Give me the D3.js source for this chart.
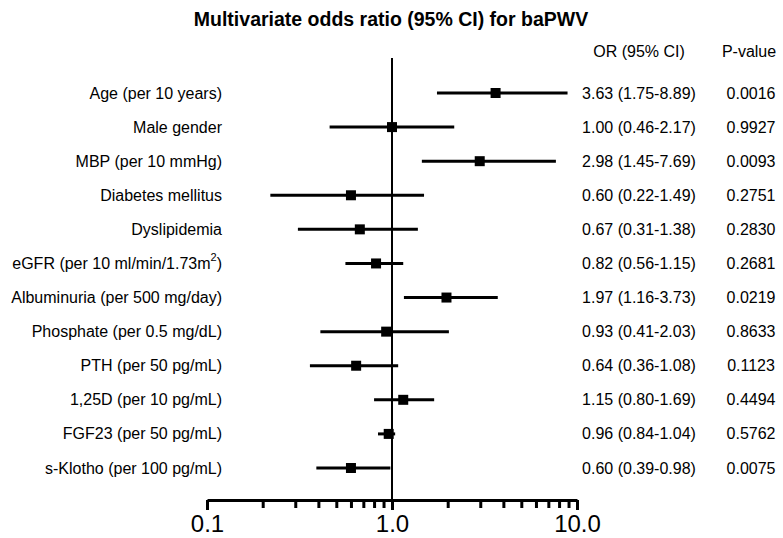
<!DOCTYPE html>
<html>
<head>
<meta charset="utf-8">
<script src="https://cdn.jsdelivr.net/npm/d3@7/dist/d3.min.js"></script>
<style>
  html, body { margin: 0; padding: 0; background: #fff; }
  svg { display: block; font-family: Arial, "Liberation Sans", Helvetica, sans-serif; }
</style>
</head>
<body>
<svg id="chart" width="783" height="538"></svg>
<script>
const variables = [
  "Age (per 10 years)",
  "Male gender",
  "MBP (per 10 mmHg)",
  "Diabetes mellitus",
  "Dyslipidemia",
  "eGFR (per 10 ml/min/1.73m²)",
  "Albuminuria (per 500 mg/day)",
  "Phosphate (per 0.5 mg/dL)",
  "PTH (per 50 pg/mL)",
  "1,25D (per 10 pg/mL)",
  "FGF23 (per 50 pg/mL)",
  "s-Klotho (per 100 pg/mL)"
];
const oddsRatio = [3.63, 1.00, 2.98, 0.60, 0.67, 0.82, 1.97, 0.93, 0.64, 1.15, 0.96, 0.60];
const ciLower   = [1.75, 0.46, 1.45, 0.22, 0.31, 0.56, 1.16, 0.41, 0.36, 0.80, 0.84, 0.39];
const ciUpper   = [8.89, 2.17, 7.69, 1.49, 1.38, 1.15, 3.73, 2.03, 1.08, 1.69, 1.04, 0.98];
const pValues   = ["0.0016", "0.9927", "0.0093", "0.2751", "0.2830", "0.2681", "0.0219", "0.8633", "0.1123", "0.4494", "0.5762", "0.0075"];
const majorTicks = [0.1, 1, 10];
const majorTickLabels = ["0.1", "1.0", "10.0"];
const minorTicks = [0.2,0.3,0.4,0.5,0.6,0.7,0.8,0.9,2,3,4,5,6,7,8,9];
const titleText = "Multivariate odds ratio (95% CI) for baPWV";
const headerOR = "OR (95% CI)";
const headerP = "P-value";

const svg = d3.select("#chart");
const x = d3.scaleLog().domain([0.1, 10]).range([207, 577]);
const y = d3.scalePoint().domain(d3.range(variables.length)).range([93, 468]);
const axisY = 500;

// Title
svg.append("text")
  .attr("x", 391).attr("y", 19)
  .attr("text-anchor", "middle").attr("dominant-baseline", "central")
  .attr("font-size", 19.5).attr("font-weight", "bold")
  .text(titleText);

// Headers
svg.append("text").attr("x", 639).attr("y", 51)
  .attr("text-anchor", "middle").attr("dominant-baseline", "central")
  .attr("font-size", 16).text(headerOR);
svg.append("text").attr("x", 749).attr("y", 51)
  .attr("text-anchor", "middle").attr("dominant-baseline", "central")
  .attr("font-size", 16).text(headerP);

// Reference line at OR = 1
svg.append("line")
  .attr("x1", x(1)).attr("x2", x(1))
  .attr("y1", 58).attr("y2", axisY)
  .attr("stroke", "#000").attr("stroke-width", 2);

// Axis
const allTicks = majorTicks.concat(minorTicks);
const axis = d3.axisBottom(x)
  .tickValues(allTicks)
  .tickSize(8)
  .tickSizeOuter(0)
  .tickFormat(d => {
    const i = majorTicks.indexOf(d);
    return i >= 0 ? majorTickLabels[i] : "";
  });
const gAxis = svg.append("g").attr("transform", `translate(0,${axisY})`).call(axis);
gAxis.select(".domain").attr("stroke", "#000").attr("stroke-width", 3);
gAxis.selectAll(".tick line").attr("stroke", "#000").attr("stroke-width", 3)
  .attr("y2", d => majorTicks.includes(d) ? 10 : 8);
gAxis.selectAll(".tick text")
  .attr("font-size", 24).attr("font-family", "Arial, 'Liberation Sans', sans-serif")
  .attr("fill", "#000").attr("y", 0).attr("dy", 0)
  .attr("transform", `translate(0,${532 - axisY})`);

// Rows
const rows = svg.append("g").selectAll("g.row")
  .data(variables.map((v, i) => ({ v, i })))
  .join("g").attr("class", "row");

// labels
rows.append("text")
  .attr("x", 222).attr("y", d => y(d.i))
  .attr("text-anchor", "end").attr("dominant-baseline", "central")
  .attr("font-size", 16)
  .each(function(d) {
    const t = d3.select(this);
    if (d.v.endsWith("²)")) {
      const base = d.v.slice(0, -2);
      t.append("tspan").text(base);
      t.append("tspan").attr("font-size", 11).attr("dy", -6).text("2");
      t.append("tspan").attr("dy", 6).text(")");
    } else {
      t.text(d.v);
    }
  });

// CI lines
rows.append("line")
  .attr("x1", d => x(ciLower[d.i])).attr("x2", d => x(ciUpper[d.i]))
  .attr("y1", d => y(d.i)).attr("y2", d => y(d.i))
  .attr("stroke", "#000").attr("stroke-width", 3);

// squares
const sq = 10;
rows.append("rect")
  .attr("x", d => x(oddsRatio[d.i]) - sq / 2)
  .attr("y", d => y(d.i) - sq / 2)
  .attr("width", sq).attr("height", sq)
  .attr("fill", "#000");

// OR text
rows.append("text")
  .attr("x", 639).attr("y", d => y(d.i))
  .attr("text-anchor", "middle").attr("dominant-baseline", "central")
  .attr("font-size", 16)
  .text(d => `${oddsRatio[d.i].toFixed(2)} (${ciLower[d.i].toFixed(2)}-${ciUpper[d.i].toFixed(2)})`);

// P text
rows.append("text")
  .attr("x", 751).attr("y", d => y(d.i))
  .attr("text-anchor", "middle").attr("dominant-baseline", "central")
  .attr("font-size", 16)
  .text(d => pValues[d.i]);
</script>
</body>
</html>
